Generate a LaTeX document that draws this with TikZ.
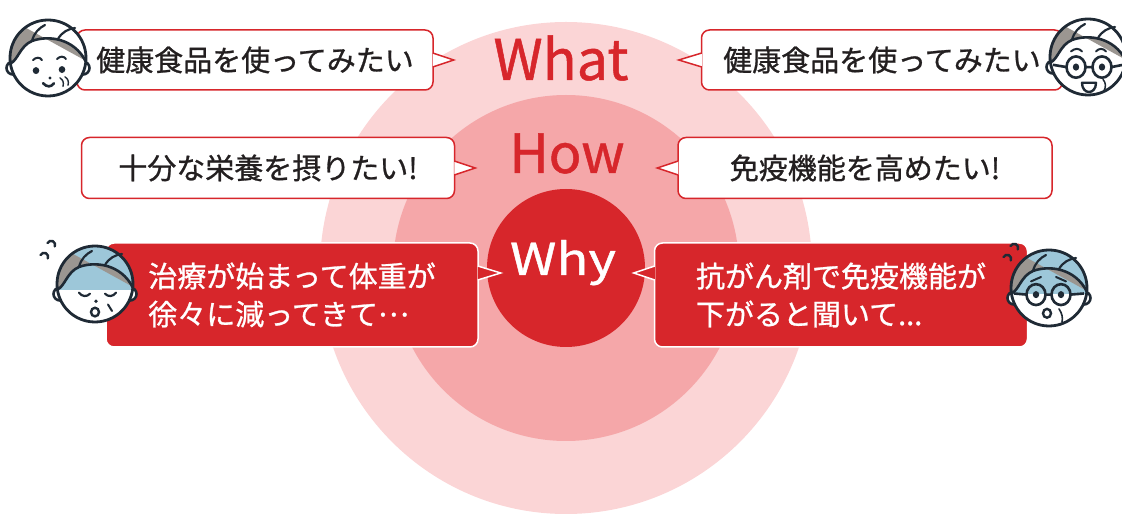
\documentclass[tikz,border=0pt]{standalone}
\usepackage{fontspec}
\setmainfont{Noto Sans CJK JP}[FakeBold=0.9]
\usetikzlibrary{positioning}
\definecolor{brand}{HTML}{D7262B}
\definecolor{ringpale}{HTML}{FBD5D6}
\definecolor{ringmid}{HTML}{F5A7A9}
\definecolor{ink}{HTML}{1F2A35}
\definecolor{hair}{HTML}{9B9691}
\definecolor{pale}{HTML}{9DC7D9}
\definecolor{txt}{HTML}{231F20}

\begin{document}
\begin{tikzpicture}[x=1pt,y=1pt,
  ring/.style={circle,inner sep=0pt,minimum size=#1},
  word/.style={anchor=base,inner sep=0pt,font=\fontsize{#1}{#1}\selectfont},
  bubble/.style={draw=brand,line width=1.5pt,fill=white,rounded corners=8pt,text=txt,
    minimum height=60pt,inner sep=0pt,font=\fontsize{29}{38}\selectfont},
  alert/.style={bubble,draw=white,fill=brand,text=white,align=left,minimum height=104pt},
  tail/.style={line width=1.5pt,line join=miter},
  faceline/.style={ink,line width=2.6pt,line cap=round},
  pics/head/.style={code={
    \filldraw[fill=white,draw=ink,line width=2.6pt] (-35,-10) circle[radius=6.5] (35,-10) circle[radius=6.5];
    \begin{scope}
      \clip (0,0) circle[radius=38];
      \fill[white] (-40,-40) rectangle (40,40);
      \fill[#1] (-40,-6) rectangle (40,40);
      \fill[hair] (-40,40) -- (-40,-6) .. controls (-30,-2) and (-28,12) .. (-16,17)
        .. controls (0,23) and (26,20) .. (40,-4) -- cycle;
    \end{scope}
    \draw[faceline] (-37.5,-5.5) .. controls (-30,-2) and (-28,12) .. (-16,17)
      .. controls (0,23) and (26,20) .. (37.8,-3.5);
    \draw[faceline,line width=2.2pt] (-16,17) .. controls (-14,25) and (-9,30) .. (-3,33)
      (10,19) .. controls (14,26) and (20,29) .. (27,30);
    \draw[ink,line width=2.8pt] (0,0) circle[radius=38];
  }}]

\useasboundingbox (0,0) rectangle (1122,514);

% three rings
\node[ring=492pt,fill=ringpale] (outer) at (566,246) {};
\node[ring=346pt,fill=ringmid] (middle) at (566,246) {};
\node[ring=158pt,fill=brand] (inner) at (566,246) {};
\node[word=56,text=brand] (what) at (561,434) {What};
\node[word=54,text=brand] (how) at (567,341) {How};
\node[word=44,text=white,xscale=1.2,transform shape] (why) at (563,239) {Why};

% speech bubbles
\node[bubble,minimum width=356pt] (q1) at (255,454) {健康食品を使ってみたい};
\node[bubble,minimum width=361pt] (q2) at (882,454) {健康食品を使ってみたい};
\node[bubble,minimum width=373pt,minimum height=61pt] (q3) at (268,346) {十分な栄養を摂りたい!};
\node[bubble,minimum width=374pt,minimum height=61pt] (q4) at (865,346) {免疫機能を高めたい!};
\node[alert,minimum width=372pt] (q5) at (292,219) {治療が始まって体重が\\徐々に減ってきて\raisebox{0.3em}{…}};
\node[alert,minimum width=373pt] (q6) at (841,219) {抗がん剤で免疫機能が\\下がると聞いて...};

% tails towards the rings
\filldraw[tail,fill=white,draw=brand] ([shift={(-1pt,7pt)}]q1.east) -- ([xshift=20pt]q1.east) -- ([shift={(-1pt,-7pt)}]q1.east);
\filldraw[tail,fill=white,draw=brand] ([shift={(1pt,7pt)}]q2.west) -- ([xshift=-22pt]q2.west) -- ([shift={(1pt,-7pt)}]q2.west);
\filldraw[tail,fill=white,draw=brand] ([shift={(-1pt,7pt)}]q3.east) -- ([xshift=20pt]q3.east) -- ([shift={(-1pt,-7pt)}]q3.east);
\filldraw[tail,fill=white,draw=brand] ([shift={(1pt,7pt)}]q4.west) -- ([xshift=-20pt]q4.west) -- ([shift={(1pt,-7pt)}]q4.west);
\filldraw[tail,fill=brand,draw=white] ([shift={(-1pt,29pt)}]q5.east) -- ([shift={(22pt,22pt)}]q5.east) -- ([shift={(-1pt,15pt)}]q5.east);
\filldraw[tail,fill=brand,draw=white] ([shift={(1pt,29pt)}]q6.west) -- ([shift={(-20pt,22pt)}]q6.west) -- ([shift={(1pt,15pt)}]q6.west);

% smiling face
\begin{scope}[shift={(48,456)},yscale=1.05]
  \pic {head=white};
  \fill[ink] (-12,-12) circle[radius=3.3] (14,-11) circle[radius=3.3];
  \draw[faceline,line width=2pt] (-15,-2) .. controls (-12,1) and (-8,1) .. (-6,-2)
    (9,-1) .. controls (12,2) and (16,2) .. (18,-1);
  \fill[ink] (2,-19) circle[radius=1.6];
  \draw[faceline] (-5,-24) .. controls (-1,-28) and (3,-28) .. (6,-24);
  \draw[faceline,line width=1.4pt] (12,-19) .. controls (15,-21) and (16,-23) .. (15,-27)
    (17,-18) .. controls (20,-20) and (21,-22) .. (20,-26);
\end{scope}

% glasses, open mouth
\begin{scope}[shift={(1088,457)},yscale=1.12]
  \pic {head=white};
  \draw[ink,line width=2.6pt] (-12,-9) circle[radius=9.5] (14,-9) circle[radius=9.5]
    (-2.5,-9) -- (4.5,-9) (-21.5,-9) -- (-35,-7) (23.5,-9) -- (35,-7);
  \fill[ink] (-12,-9) circle[radius=3.2] (14,-9) circle[radius=3.2];
  \draw[faceline,line width=2pt] (-17,5) .. controls (-13,8) and (-9,8) .. (-6,5)
    (8,5) .. controls (11,8) and (15,8) .. (18,5);
  \filldraw[fill=white,draw=ink,line width=2.4pt,line join=round]
    (-6,-23) -- (8,-23) .. controls (8,-34) and (-6,-34) .. (-6,-23) -- cycle;
  \draw[faceline,line width=1.5pt] (15,-20) .. controls (18,-23) and (18,-27) .. (16,-30);
\end{scope}

% tired face, eyes shut
\begin{scope}[shift={(95,230)},yscale=1.08]
  \pic {head=pale};
  \draw[faceline,line width=2.2pt] (-16,-8) .. controls (-13,-12) and (-8,-12) .. (-5,-9)
    (10,-9) .. controls (13,-12) and (18,-12) .. (21,-8);
  \fill[ink] (1,-16) circle[radius=1.8];
  \draw[ink,line width=2.4pt] (0,-26) circle[radius=4];
  \draw[faceline,line width=2pt] (13,-19) -- (17,-25);
\end{scope}
\draw[faceline,line width=2.4pt,rotate around={-25:(52,271)}] (48,269) arc[start angle=180,end angle=0,radius=4];
\draw[faceline,line width=2.4pt,rotate around={-25:(45,259)}] (41,257) arc[start angle=180,end angle=0,radius=4];

% worried face with glasses
\begin{scope}[shift={(1049,226)},yscale=1.1]
  \pic {head=pale};
  \draw[ink,line width=2.6pt] (-13,-6) circle[radius=9.5] (12,-6) circle[radius=9.5]
    (-3.5,-6) -- (2.5,-6) (-22.5,-6) -- (-35,-5) (21.5,-6) -- (35,-5);
  \fill[ink] (-13,-6) circle[radius=3.2] (12,-6) circle[radius=3.2];
  \draw[faceline,line width=2pt] (-18,6) -- (-8,10) (7,10) -- (17,6);
  \draw[ink,line width=2.4pt] (-2,-23) circle[radius=4];
  \draw[faceline,line width=1.6pt] (10,-19) .. controls (13,-23) and (14,-27) .. (13,-31);
\end{scope}
\draw[faceline,line width=2.4pt,rotate around={-25:(1015,268)}] (1011,266) arc[start angle=180,end angle=0,radius=4];
\draw[faceline,line width=2.4pt,rotate around={-25:(1008,257)}] (1004,255) arc[start angle=180,end angle=0,radius=4];
\end{tikzpicture}
\end{document}
